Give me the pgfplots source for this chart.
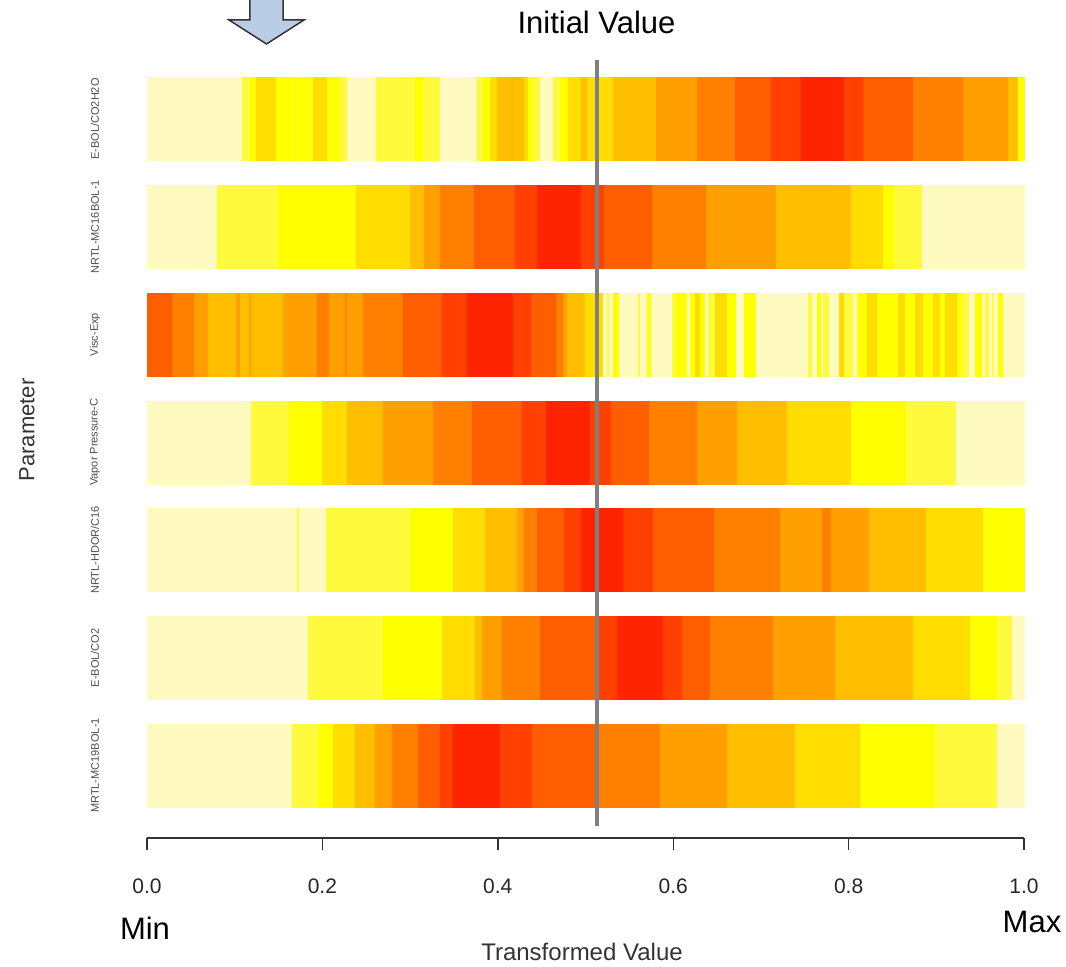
\documentclass[border=0pt]{standalone}
\usepackage{fontspec}
\setmainfont{Liberation Sans}
\usepackage{pgfplots}
\usepackage{pgfplotstable}
\pgfplotsset{compat=1.18}
\definecolor{heat0}{HTML}{FF2400}
\definecolor{heat1}{HTML}{FF4000}
\definecolor{heat2}{HTML}{FF5E00}
\definecolor{heat3}{HTML}{FF8000}
\definecolor{heat4}{HTML}{FFA000}
\definecolor{heat5}{HTML}{FFBE00}
\definecolor{heat6}{HTML}{FFDD00}
\definecolor{heat7}{HTML}{FFFF00}
\definecolor{heat8}{HTML}{FFFA3C}
\definecolor{heat9}{HTML}{FFFBC0}
\definecolor{arrowblue}{HTML}{B9CDE5}
\definecolor{linegray}{HTML}{7F7F7F}

% each row: right end of each segment (left end = previous right end, first = 0) and colour level
\pgfplotstableread{
x c
0.1080 9
0.1174 8
0.1243 7
0.1471 6
0.1661 7
0.1676 8
0.1889 7
0.2049 6
0.2201 7
0.2277 8
0.2611 9
0.3056 8
0.3151 7
0.3341 8
0.3759 9
0.3835 8
0.3911 7
0.3987 6
0.4299 5
0.4348 6
0.4405 7
0.4481 8
0.4633 9
0.4709 8
0.4797 7
0.4945 6
0.5021 5
0.5310 6
0.5804 5
0.6268 4
0.6708 3
0.7119 2
0.7461 1
0.7948 0
0.8161 1
0.8731 2
0.9301 3
0.9814 4
0.9935 5
1.0000 7
}\rowA
\pgfplotstableread{
x c
0.0802 9
0.1497 8
0.2383 7
0.2999 6
0.3158 5
0.3341 4
0.3729 3
0.4196 2
0.4450 1
0.4945 0
0.5211 1
0.5755 2
0.6371 3
0.7172 4
0.8027 5
0.8389 6
0.8521 7
0.8834 8
1.0000 9
}\rowB
\pgfplotstableread{
x c
0.0288 2
0.0539 3
0.0699 4
0.1011 5
0.1060 4
0.1163 5
0.1186 4
0.1554 5
0.1942 4
0.2072 3
0.2254 4
0.2277 3
0.2460 4
0.2922 3
0.3367 2
0.3645 1
0.4170 0
0.4375 1
0.4664 2
0.4740 3
0.4792 4
0.4994 5
0.5203 6
0.5249 9
0.5271 8
0.5310 9
0.5385 7
0.5595 9
0.5621 8
0.5698 9
0.5750 7
0.5983 9
0.6032 8
0.6161 7
0.6192 9
0.6249 7
0.6306 6
0.6363 7
0.6400 9
0.6477 8
0.6610 6
0.6716 7
0.6807 9
0.6941 7
0.7541 9
0.7579 8
0.7636 9
0.7682 7
0.7712 9
0.7773 8
0.7894 9
0.7948 6
0.8054 8
0.8092 9
0.8206 7
0.8320 6
0.8567 7
0.8643 6
0.8757 7
0.8852 6
0.8966 7
0.9042 6
0.9099 7
0.9232 6
0.9290 7
0.9376 8
0.9441 9
0.9518 7
0.9555 9
0.9601 8
0.9632 9
0.9661 8
0.9707 9
0.9764 7
1.0000 9
}\rowC
\pgfplotstableread{
x c
0.1186 9
0.1623 8
0.1992 7
0.2277 6
0.2694 5
0.3265 4
0.3702 3
0.4273 2
0.4550 1
0.5051 0
0.5287 1
0.5724 2
0.6268 3
0.6731 4
0.7301 5
0.8027 6
0.8651 7
0.9221 8
1.0000 9
}\rowD
\pgfplotstableread{
x c
0.1707 9
0.1737 8
0.2041 9
0.2999 8
0.3493 7
0.3854 6
0.4215 5
0.4299 4
0.4450 3
0.4755 2
0.4945 1
0.5431 0
0.5773 1
0.6469 2
0.7218 3
0.7693 4
0.7796 3
0.8233 4
0.8883 5
0.9529 6
1.0000 7
}\rowE
\pgfplotstableread{
x c
0.1836 9
0.2691 8
0.3364 7
0.3740 6
0.3820 5
0.4048 4
0.4481 3
0.5131 2
0.5359 1
0.5884 0
0.6100 1
0.6420 2
0.7138 3
0.7845 4
0.8734 5
0.9384 6
0.9692 7
0.9863 8
1.0000 9
}\rowF
\pgfplotstableread{
x c
0.1653 9
0.1950 8
0.2121 7
0.2372 6
0.2600 5
0.2794 4
0.3090 3
0.3341 2
0.3489 1
0.4025 0
0.4390 1
0.5131 2
0.5849 3
0.6613 4
0.7389 5
0.8130 6
0.8985 7
0.9692 8
1.0000 9
}\rowG

\newcommand\drawrow[2]{%
  \pgfmathsetmacro\ylo{#2-0.385}%
  \pgfmathsetmacro\yhi{#2+0.385}%
  \def\xprev{0}%
  \pgfplotstablegetrowsof{#1}%
  \pgfmathtruncatemacro\lastrow{\pgfplotsretval-1}%
  \pgfplotsforeachungrouped \ii in {0,...,\lastrow}{%
    \pgfplotstablegetelem{\ii}{x}\of{#1}\let\xnext\pgfplotsretval
    \pgfplotstablegetelem{\ii}{c}\of{#1}\let\segc\pgfplotsretval
    \edef\doplot{\noexpand\addplot[draw=heat\segc, line width=0.15pt, fill=heat\segc] coordinates {(\xprev,\ylo) (\xnext,\ylo) (\xnext,\yhi) (\xprev,\yhi)} -- cycle;}%
    \doplot
    \let\xprev\xnext
  }%
}

\begin{document}
\begin{tikzpicture}
\begin{axis}[
  at={(0,0)}, anchor=south west,
  scale only axis, width=438.5pt, height=389pt,
  xmin=0, xmax=1, ymin=0.327, ymax=7.548,
  axis x line=bottom, axis y line=none,
  x axis line style={-, line width=0.7pt, color=black!80},
  xtick={0,0.2,0.4,0.6,0.8,1},
  xticklabels={0.0,0.2,0.4,0.6,0.8,1.0},
  tick align=outside, major tick length=6pt,
  major tick style={line width=0.7pt, color=black!80},
  xticklabel style={font=\fontsize{10.5}{12}\selectfont, text=black!85, yshift=-11pt},
  clip=false,
]
\drawrow{\rowA}{7}
\drawrow{\rowB}{6}
\drawrow{\rowC}{5}
\drawrow{\rowD}{4}
\drawrow{\rowE}{3}
\drawrow{\rowF}{2}
\drawrow{\rowG}{1}
\addplot[draw=linegray, line width=2.2pt] coordinates {(0.5131,0.44) (0.5131,7.548)};
\node[rotate=90, font=\fontsize{5.5}{6}\selectfont, text=black!70] at (axis cs:-0.0593,7) {E-BOL/CO2H2O};
\node[rotate=90, font=\fontsize{5.5}{6}\selectfont, text=black!70] at (axis cs:-0.0593,6) {NRTL-MC16BOL-1};
\node[rotate=90, font=\fontsize{5.5}{6}\selectfont, text=black!70] at (axis cs:-0.0593,5) {Visc-Exp};
\node[rotate=90, font=\fontsize{5.5}{6}\selectfont, text=black!70] at (axis cs:-0.0593,4) {Vapor Pressure-C};
\node[rotate=90, font=\fontsize{5.5}{6}\selectfont, text=black!70] at (axis cs:-0.0593,3) {NRTL-HDOR/C16};
\node[rotate=90, font=\fontsize{5.5}{6}\selectfont, text=black!70] at (axis cs:-0.0593,2) {E-BOL/CO2};
\node[rotate=90, font=\fontsize{5.5}{6}\selectfont, text=black!70] at (axis cs:-0.0593,1) {MRTL-MC19BOL-1};
\end{axis}
% annotations (pt coordinates, axis lower-left corner at origin)
\node[font=\fontsize{15.5}{18}\selectfont] at (224.75pt,408pt) {Initial Value};
\node[font=\fontsize{15.5}{18}\selectfont] at (-1pt,-45pt) {Min};
\node[font=\fontsize{15.5}{18}\selectfont] at (442.5pt,-42pt) {Max};
\node[font=\fontsize{12}{14}\selectfont, text=black!80] at (217.5pt,-57pt) {Transformed Value};
\node[rotate=90, font=\fontsize{11}{13}\selectfont, text=black!80] at (-60pt,204pt) {Parameter};
\draw[fill=arrowblue, draw=black!80, line width=0.75pt, line join=miter]
  (51.5pt,425pt) -- (51.5pt,409pt) -- (41pt,409pt) -- (59.75pt,397pt) -- (78.5pt,409pt) -- (68pt,409pt) -- (68pt,425pt);
\pgfresetboundingbox
\path[use as bounding box] (-73.5pt,-64.5pt) rectangle (459.5pt,419pt);
\end{tikzpicture}
\end{document}
